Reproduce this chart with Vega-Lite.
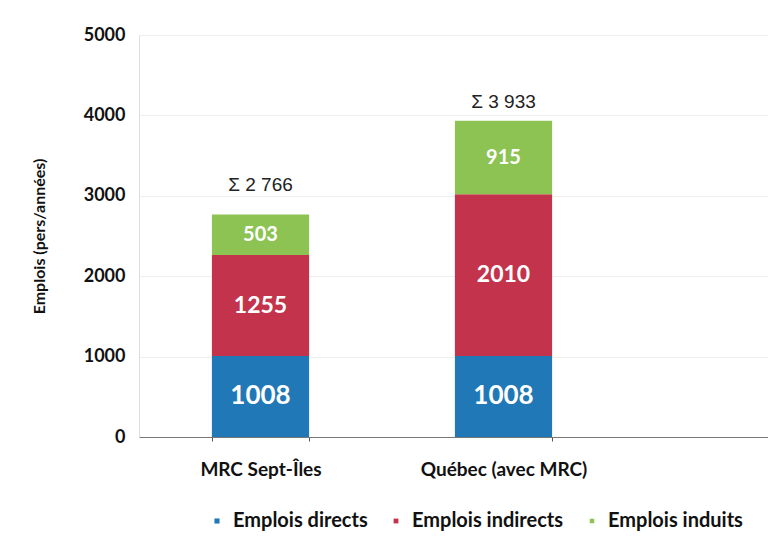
{
  "$schema": "https://vega.github.io/schema/vega-lite/v6.json",
  "width": 629,
  "height": 402,
  "autosize": {"type": "none"},
  "padding": {"left": 139, "top": 35, "right": 0, "bottom": 110},
  "background": "white",
  "datasets": {
    "emplois": [
      {"region": "MRC Sept-Îles", "type": "Emplois directs", "value": 1008},
      {"region": "MRC Sept-Îles", "type": "Emplois indirects", "value": 1255},
      {"region": "MRC Sept-Îles", "type": "Emplois induits", "value": 503},
      {"region": "Québec (avec MRC)", "type": "Emplois directs", "value": 1008},
      {"region": "Québec (avec MRC)", "type": "Emplois indirects", "value": 2010},
      {"region": "Québec (avec MRC)", "type": "Emplois induits", "value": 915}
    ],
    "totaux": [
      {"region": "MRC Sept-Îles", "total": 2766, "label": "Σ 2 766"},
      {"region": "Québec (avec MRC)", "total": 3933, "label": "Σ 3 933"}
    ]
  },
  "encoding": {
    "x": {
      "field": "region",
      "type": "nominal",
      "sort": null,
      "scale": {
        "domain": ["MRC Sept-Îles", "Québec (avec MRC)", " "],
        "range": [0, 729],
        "paddingInner": 0.6,
        "paddingOuter": 0.3
      },
      "axis": {
        "title": null,
        "labelAngle": 0,
        "labelFont": "Lato",
        "labelFontWeight": "bold",
        "labelFontSize": 19,
        "labelColor": "#111111",
        "labelPadding": 19,
        "tickBand": "extent",
        "tickSize": 4,
        "tickColor": "#555555",
        "domainColor": "#777777",
        "grid": false
      }
    }
  },
  "layer": [
    {
      "data": {"name": "emplois"},
      "transform": [
        {"stack": "value", "groupby": ["region"], "sort": [{"field": "type", "order": "ascending"}], "as": ["v0", "v1"]}
      ],
      "mark": {"type": "bar"},
      "encoding": {
        "y": {
          "field": "v1",
          "type": "quantitative",
          "scale": {"domain": [0, 5000], "nice": false},
          "axis": {
            "title": "Emplois (pers/années)",
            "values": [0, 1000, 2000, 3000, 4000, 5000],
            "format": "d",
            "labelFont": "Lato",
            "labelFontWeight": "bold",
            "labelFontSize": 18,
            "labelColor": "#111111",
            "labelPadding": 14,
            "tickSize": 0,
            "domainColor": "#dddddd",
            "gridColor": "#eeeeee",
            "titleFont": "Lato",
            "titleFontSize": 16,
            "titleFontWeight": "bold",
            "titleColor": "#111111",
            "titlePadding": 36
          }
        },
        "y2": {"field": "v0"},
        "color": {
          "field": "type",
          "type": "nominal",
          "scale": {
            "domain": ["Emplois directs", "Emplois indirects", "Emplois induits"],
            "range": ["#2178b6", "#c3344c", "#8dc353"]
          },
          "legend": {
            "orient": "none",
            "legendX": 68,
            "legendY": 476,
            "direction": "horizontal",
            "title": null,
            "symbolType": "square",
            "symbolSize": 64,
            "symbolStrokeWidth": 0,
            "labelFont": "Lato",
            "labelFontWeight": "bold",
            "labelFontSize": 20,
            "labelColor": "#111111",
            "labelOffset": 6,
            "columnPadding": 18
          }
        }
      }
    },
    {
      "data": {"name": "emplois"},
      "transform": [
        {"stack": "value", "groupby": ["region"], "sort": [{"field": "type", "order": "ascending"}], "as": ["v0", "v1"]}
      ],
      "mark": {
        "type": "text",
        "color": "white",
        "font": "Lato",
        "fontWeight": "bold",
        "baseline": "middle",
        "align": "center",
        "dy": {"expr": "(scale('y', datum.v0) - scale('y', datum.v1)) / 2"}
      },
      "encoding": {
        "y": {"field": "v1", "type": "quantitative"},
        "text": {"field": "value", "type": "quantitative", "format": "d"},
        "size": {
          "field": "type",
          "type": "nominal",
          "scale": {"domain": ["Emplois directs", "Emplois indirects", "Emplois induits"], "range": [26, 20, 15]},
          "legend": null
        }
      }
    },
    {
      "data": {"name": "totaux"},
      "transform": [{"filter": "datum.region == 'MRC Sept-Îles'"}],
      "mark": {"type": "text", "font": "Liberation Sans", "fontSize": 19, "color": "#222222", "baseline": "middle", "dy": -30},
      "encoding": {
        "y": {"field": "total", "type": "quantitative"},
        "text": {"field": "label"}
      }
    },
    {
      "data": {"name": "totaux"},
      "transform": [{"filter": "datum.region == 'Québec (avec MRC)'"}],
      "mark": {"type": "text", "font": "Liberation Sans", "fontSize": 19, "color": "#222222", "baseline": "middle", "dy": -19},
      "encoding": {
        "y": {"field": "total", "type": "quantitative"},
        "text": {"field": "label"}
      }
    }
  ],
  "config": {
    "view": {"stroke": null}
  }
}
